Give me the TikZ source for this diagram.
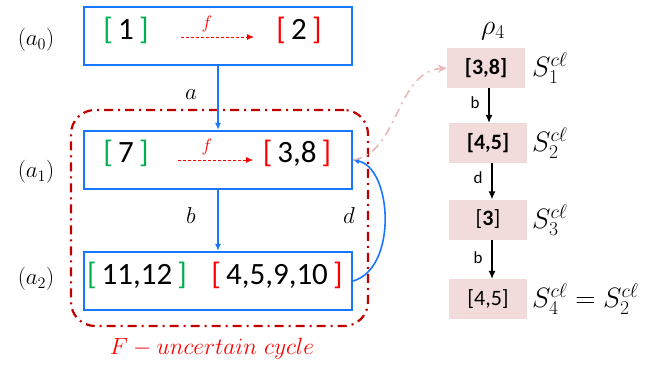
\RequirePackage{fix-cm}
\documentclass[tikz,border=0pt]{standalone}
\usepackage{fontspec}
\setsansfont{Carlito}
\usetikzlibrary{arrows.meta}
\definecolor{boxblue}{RGB}{25,118,255}
\definecolor{cycred}{RGB}{192,0,0}
\definecolor{brgreen}{RGB}{0,176,80}
\definecolor{brred}{RGB}{255,0,0}
\definecolor{pinkfill}{RGB}{242,220,219}
\definecolor{pinkline}{RGB}{230,185,184}
\tikzset{
  bluebox/.style={draw=boxblue, line width=2.2pt, minimum width=268pt, minimum height=58pt, inner sep=0pt},
  nums/.style={font=\sffamily\fontsize{31}{33}\selectfont, inner sep=0pt},
  statelab/.style={font=\fontsize{23}{26}\selectfont, inner sep=0pt},
  edgelab/.style={font=\fontsize{23}{26}\selectfont, inner sep=0pt},
  flab/.style={font=\fontsize{18}{20}\selectfont, text=brred, inner sep=0pt},
  farrow/.style={draw=brred, densely dashed, line width=0.8pt, -{Latex[length=7pt,width=6pt]}},
  bluearrow/.style={draw=boxblue, line width=1.6pt, -{Latex[length=7pt,width=6pt]}},
  pinkbox/.style={fill=pinkfill, minimum width=78pt, minimum height=40pt, inner sep=0pt, font=\sffamily\fontsize{22}{24}\selectfont},
  slab/.style={font=\fontsize{28}{30}\selectfont, inner sep=0pt, anchor=west},
  blackarrow/.style={draw=black, line width=1.1pt, -{Latex[length=8pt,width=7pt]}},
  rlab/.style={font=\sffamily\fontsize{17}{19}\selectfont, inner sep=0pt},
}
\newcommand{\gb}[1]{\textcolor{brgreen}{[}\,#1\,\textcolor{brgreen}{]}}
\newcommand{\rb}[1]{\textcolor{brred}{[}\,#1\,\textcolor{brred}{]}}
\begin{document}
\begin{tikzpicture}[x=1pt,y=-1pt]
\useasboundingbox (0,0) rectangle (651,365);
% cycle region
\node[draw=cycred, line width=2.2pt, dash pattern=on 9pt off 5pt on 2pt off 5pt, rounded corners=24pt,
      minimum width=297pt, minimum height=216pt, inner sep=0pt] (cyc) at (219.5,218) {};
\node[font=\fontsize{23.5}{26}\selectfont, text=brred, inner sep=0pt] (cyclab) at (212,349) {$F - uncertain\ cycle$};
% boxes
\node[bluebox] (a0) at (218,36) {};
\node[bluebox] (a1) at (218,160) {};
\node[bluebox] (a2) at (218,281) {};
\node[statelab] (l0) at (36,40) {$(a_0)$};
\node[statelab] (l1) at (36,172) {$(a_1)$};
\node[statelab] (l2) at (36,279) {$(a_2)$};
% contents
\node[nums] (a0l) at (126,30) {\gb{1}};
\node[nums] (a0r) at (299,30) {\rb{2}};
\node[nums] (a1l) at (126,153) {\gb{7}};
\node[nums] (a1r) at (297,153) {\rb{3,8}};
\node[nums] (a2l) at (137,275) {\gb{11,12}};
\node[nums] (a2r) at (277,275) {\rb{4,5,9,10}};
\coordinate (f0s) at (181,37);
\coordinate (f0e) at (254,37);
\coordinate (f1s) at (178,160);
\coordinate (f1e) at (253,160);
\draw[farrow] (f0s) -- (f0e);
\draw[farrow] (f1s) -- (f1e);
\node[flab] (f0) at (207,24) {$f$};
\node[flab] (f1) at (207,147) {$f$};
% transitions
\draw[bluearrow] (a0) -- (a1);
\draw[bluearrow] (a1) -- (a2);
\node[edgelab] (la) at (191,95) {$a$};
\node[edgelab] (lb) at (191,216) {$b$};
\node[edgelab] (ld) at (349,216) {$d$};
\draw[draw=boxblue, line width=1.6pt, -{Latex[length=6pt,width=6pt]}]
  (a2.east) .. controls (398,268) and (392,168) .. (a1.east);
% right column
\node[font=\fontsize{28}{30}\selectfont, inner sep=0pt] (rho) at (493,31) {$\rho_4$};
\node[pinkbox] (r1) at (486,68) {\bfseries[3,8]};
\node[pinkbox] (r2) at (488,143) {\bfseries[4,5]};
\node[pinkbox] (r3) at (488,219.5) {[\textbf{3}]};
\node[pinkbox] (r4) at (488,299) {[4,5]};
\draw[blackarrow] ([xshift=3pt]r1.south) -- ([xshift=1pt]r2.north);
\draw[blackarrow] ([xshift=4pt]r2.south) -- ([xshift=4pt]r3.north);
\draw[blackarrow] ([xshift=4pt]r3.south) -- ([xshift=4pt]r4.north);
\node[rlab] (rb1) at (475,103) {b};
\node[rlab] (rd) at (478,178) {d};
\node[rlab] (rb2) at (478,258) {b};
\node[slab] (s1) at (532,68) {$S_1^{c\ell}$};
\node[slab] (s2) at (532,143) {$S_2^{c\ell}$};
\node[slab] (s3) at (532,220) {$S_3^{c\ell}$};
\node[slab] (s4) at (532,299) {$S_4^{c\ell} = S_2^{c\ell}$};
% pink link
\draw[draw=pinkline, line width=1.6pt, dash pattern=on 9pt off 5pt on 2pt off 5pt, -{Stealth[length=9pt,width=8pt]}]
  (a1.east) .. controls (400,152) and (395,72) .. (r1.west);
\end{tikzpicture}
\end{document}
